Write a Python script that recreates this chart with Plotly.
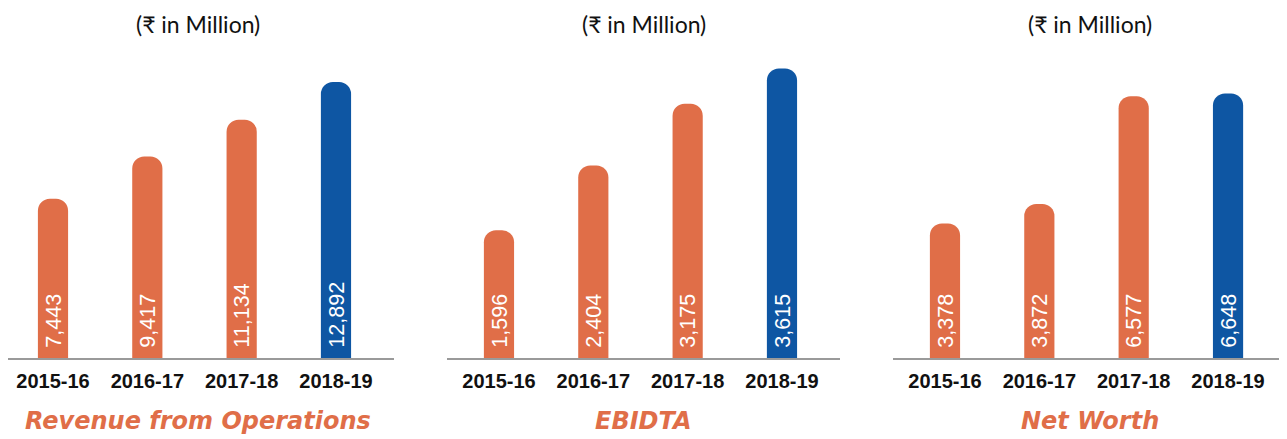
import plotly.graph_objects as go

years = ["2015-16", "2016-17", "2017-18", "2018-19"]
revenue = [7443, 9417, 11134, 12892]
ebidta = [1596, 2404, 3175, 3615]
net_worth = [3378, 3872, 6577, 6648]
titles = ["Revenue from Operations", "EBIDTA", "Net Worth"]
unit_label = "(₹ in Million)"

ORANGE = "#E06E48"
BLUE = "#0E56A3"
OFF = 8  # page body margin
W, H = 1287 - OFF, 439 - OFF

series = [revenue, ebidta, net_worth]
ymax = [14390, 3845, 7740]
domains_px = [(0, 386), (439, 832), (885, 1279)]
ranges = [(-0.477, 3.615), (-0.551, 3.615), (-0.551, 3.625)]
centers_px = [197.5 - OFF, 643.5 - OFF, 1090 - OFF]

fig = go.Figure()
for i, vals in enumerate(series):
    ax = "" if i == 0 else str(i + 1)
    colors = [ORANGE] * (len(vals) - 1) + [BLUE]
    fig.add_trace(go.Bar(
        x=years, y=vals, xaxis="x" + ax, yaxis="y" + ax,
        marker=dict(color=colors, line=dict(width=0)),
        width=0.32,
        text=["\u2004" + f"{v:,}" for v in vals],
        textposition="inside", insidetextanchor="start",
        textangle=-90, constraintext="none",
        textfont=dict(family="Liberation Sans, Arial", size=25, color="white"),
        hoverinfo="skip", showlegend=False,
    ))
    d0, d1 = domains_px[i]
    fig.layout["xaxis" + ax] = dict(
        domain=[d0 / W, d1 / W], anchor="y" + ax,
        range=list(ranges[i]), showline=True, linecolor="#9a9a9a", linewidth=1.5,
        showgrid=False, zeroline=False, ticks="",
        tickfont=dict(family="Liberation Sans, Arial", size=20, color="#111111", weight="bold"),
        ticklabelstandoff=4, fixedrange=True,
    )
    fig.layout["yaxis" + ax] = dict(
        domain=[81 / H, (H - 42) / H], anchor="x" + ax,
        range=[0, ymax[i]], visible=False, fixedrange=True,
    )
    cx = centers_px[i] / W
    fig.add_annotation(text=unit_label, x=cx, y=1 - (24 - OFF) / H, xref="paper", yref="paper",
                       showarrow=False, xanchor="center", yanchor="middle",
                       font=dict(family="Lato, Noto Sans, DejaVu Sans", size=23, color="#111111"))
    fig.add_annotation(text=f"<b><i>{titles[i]}</i></b>", x=cx, y=1 - (421 - OFF) / H, xref="paper", yref="paper",
                       showarrow=False, xanchor="center", yanchor="middle",
                       font=dict(family="DejaVu Sans", size=24, color=ORANGE))

fig.update_layout(
    width=W, height=H, margin=dict(l=0, r=0, t=0, b=0),
    paper_bgcolor="white", plot_bgcolor="white",
    barcornerradius=12,
)
fig.write_html("out.html")
